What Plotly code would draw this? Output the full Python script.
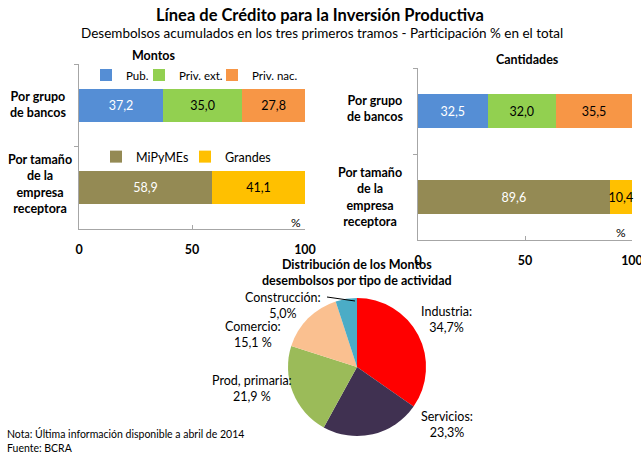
import plotly.graph_objects as go

# ---------------- data ----------------
categories = ["Por grupo<br>de bancos", "Por tamaño<br>de la<br>empresa<br>receptora"]
bancos_series = ["Pub.", "Priv. ext.", "Priv. nac."]
montos_bancos = [37.2, 35.0, 27.8]
cantidades_bancos = [32.5, 32.0, 35.5]
tamano_series = ["MiPyMEs", "Grandes"]
montos_tamano = [58.9, 41.1]
cantidades_tamano = [89.6, 10.4]
actividades = ["Industria", "Servicios", "Prod. primaria", "Comercio", "Construcción"]
montos_actividad = [34.7, 23.3, 21.9, 15.1, 5.0]
pct_suffix = ["%", "%", " %", " %", "%"]
x_ticks = [0, 50, 100]

# ---------------- styles ----------------
FONT = "Lato"
W, H = 641, 454
bancos_colors = ["#558ED5", "#92D050", "#F79646"]
bancos_text = ["white", "black", "black"]
tamano_colors = ["#948A54", "#FFC000"]
tamano_text = ["white", "black"]
pie_colors = ["#FF0000", "#403151", "#9BBB59", "#FAC090", "#4BACC6"]
AXC = "#A6A6A6"
bancos_legends = ["legend", "legend2", "legend3"]
tamano_legends = ["legend4", "legend5"]
bancos_leg_x = [86, 139, 212]
tamano_leg_x = [96, 185]

fig = go.Figure()

def add_bars(values, names, colors, tcolors, cat, xa, ya, legends, show):
    for v, n, c, tc, lg in zip(values, names, colors, tcolors, legends):
        fig.add_trace(go.Bar(
            x=[v], y=[cat], name=n, orientation="h",
            marker=dict(color=c, line=dict(width=0)),
            width=0.4,
            text=[v], texttemplate="%{x:.1f}", textposition="inside",
            insidetextanchor="middle", constraintext="none", textangle=0,
            textfont=dict(color=tc, size=12.5, family=FONT),
            xaxis=xa, yaxis=ya, legend=lg, showlegend=show,
            cliponaxis=False, hoverinfo="x+name",
        ))

add_bars(montos_bancos, bancos_series, bancos_colors, bancos_text, categories[0], "x", "y", bancos_legends, True)
add_bars(montos_tamano, tamano_series, tamano_colors, tamano_text, categories[1], "x", "y", tamano_legends, True)
add_bars(cantidades_bancos, bancos_series, bancos_colors, bancos_text, categories[0], "x2", "y2", bancos_legends, False)
add_bars(cantidades_tamano, tamano_series, tamano_colors, tamano_text, categories[1], "x2", "y2", tamano_legends, False)

fig.add_trace(go.Pie(
    labels=actividades, values=montos_actividad, sort=False,
    direction="clockwise", rotation=0,
    marker=dict(colors=pie_colors, line=dict(width=0)),
    textinfo="none", showlegend=False,
    domain=dict(x=[285 / W, 429 / W], y=[(H - 436) / H, (H - 298) / H]),
))

xaxis_common = dict(
    range=[0, 100], tickvals=x_ticks, showline=True, linecolor=AXC, linewidth=1,
    ticks="inside", ticklen=4, tickcolor=AXC, showgrid=False, zeroline=False,
    tickfont=dict(size=12.5, family=FONT, color="black", weight="bold"),
    ticklabelstandoff=9, fixedrange=True, automargin=False, ticklabeloverflow="allow",
)
yaxis_common = dict(
    type="category", categoryorder="array", categoryarray=categories,
    autorange="reversed", showline=True, linecolor=AXC, linewidth=1,
    ticks="outside", tickson="boundaries", ticklen=4, tickcolor=AXC,
    showticklabels=False, showgrid=False, zeroline=False, fixedrange=True,
    automargin=False,
)

def leg(x, y, size):
    return dict(orientation="h", x=x / W, y=(H - y) / H, xanchor="left", yanchor="middle",
                font=dict(size=size, family=FONT), itemwidth=30, bgcolor="rgba(0,0,0,0)",
                itemclick=False, itemdoubleclick=False)

legends = {}
for lg, lx in zip(bancos_legends, bancos_leg_x):
    legends[lg] = leg(lx, 75, 11.5)
for lg, lx in zip(tamano_legends, tamano_leg_x):
    legends[lg] = leg(lx, 157, 12.5)

fig.update_layout(
    width=W, height=H, margin=dict(l=0, r=0, t=0, b=0, autoexpand=False),
    paper_bgcolor="white", plot_bgcolor="white",
    barmode="stack", separators=",.",
    font=dict(family=FONT, size=12, color="black"),
    xaxis=dict(domain=[79 / W, 305 / W], anchor="y", **xaxis_common),
    yaxis=dict(domain=[(H - 229) / H, (H - 64) / H], anchor="x", **yaxis_common),
    xaxis2=dict(domain=[418 / W, 632 / W], anchor="y2", **xaxis_common),
    yaxis2=dict(domain=[(H - 240) / H, (H - 68) / H], anchor="x2", **yaxis_common),
    **legends,
)

ann = []
def A(text, x, y, size=12, bold=False, xref="paper", yref="paper", xanchor="center", yshift=0):
    ann.append(dict(text=text, x=x, y=y, xref=xref, yref=yref, showarrow=False,
                    xanchor=xanchor, yanchor="middle", align="center", yshift=yshift,
                    font=dict(size=size, family=FONT, color="black",
                              weight="bold" if bold else "normal")))

A("Línea de Crédito para la Inversión Productiva", 320 / W, (H - 15) / H, size=16.5, bold=True)
A("Desembolsos acumulados en los tres primeros tramos - Participación % en el total", 322 / W, (H - 33) / H, size=13.5)
A("Montos", 154 / W, (H - 56) / H, size=12.5, bold=True)
A("Cantidades", 527 / W, (H - 59) / H, size=12.5, bold=True)
A("Distribución de los Montos<br>desembolsos por tipo de actividad", 357 / W, (H - 272) / H, size=12.5, bold=True)

# category labels
A(categories[0], 38 / W, 0, size=12.5, bold=True, yref="y", yshift=1)
A(categories[1], 40 / W, 1, size=12.5, bold=True, yref="y", yshift=4)
A(categories[0], 375 / W, 0, size=12.5, bold=True, yref="y2", yshift=3)
A(categories[1], 370 / W, 1, size=12.5, bold=True, yref="y2", yshift=0)

# % labels
A("%", 96, (H - 222) / H, xref="x")
A("%", 95, (H - 232) / H, xref="x2")

# pie labels
pie_label_pos = [(447, 319), (447, 424), (252, 388), (253, 334), (283, 305)]
for name, v, suf, (px, py) in zip(actividades, montos_actividad, pct_suffix, pie_label_pos):
    A(f"{name}:<br>{v:.1f}".replace(".", ",") + suf, px / W, (H - py) / H, size=12.5)

A("Nota: Última información disponible a abril de 2014<br>Fuente: BCRA", 5 / W, (H - 440) / H,
  size=10.5, xanchor="left")
ann[-1]["align"] = "left"

fig.update_layout(annotations=ann)
fig.add_shape(type="line", xref="paper", yref="paper",
              x0=327 / W, y0=(H - 297) / H, x1=355 / W, y1=(H - 301) / H,
              line=dict(color="black", width=1))

fig.write_html(
    "out.html",
    config={"displayModeBar": False, "responsive": False},
    default_width="641px", default_height="454px",
    post_script="document.body.style.margin='0';document.body.style.overflow='hidden';",
)
